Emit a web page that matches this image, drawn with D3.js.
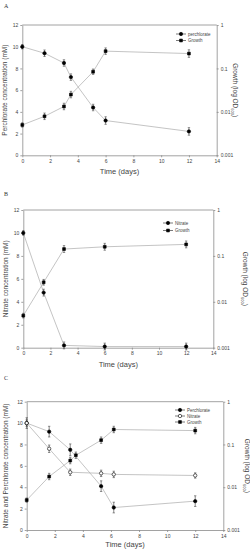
<!DOCTYPE html>
<html><head><meta charset="utf-8">
<script src="https://cdn.jsdelivr.net/npm/d3@7"></script>
<style>body{margin:0;background:#fff}svg{display:block;font-family:"Liberation Sans",Arial,sans-serif}</style>
</head><body><svg id="c" width="250" height="550"></svg>
<script>
// ---- data ----
const xTicks = [0,2,4,6,8,10,12,14];
const yTicks = [0,2,4,6,8,10,12];
const logTicks = [0.001,0.01,0.1,1];
const logTickLabels = ["0.001","0.01","0.1","1"];

// Panel A
const aPerchDays = [0,1.6,3,3.5,5.1,6,12];
const aPerch     = [10,9.4,8.5,7.2,4.4,3.2,2.2];
const aPerchErr  = [0.2,0.3,0.3,0.3,0.3,0.35,0.35];
const aGrowthDays= [0,1.6,3,3.5,5.1,6,12];
const aGrowth    = [0.005,0.0079,0.0133,0.025,0.084,0.25,0.22];
const aGrowthErr = [0.2,0.3,0.3,0.3,0.25,0.3,0.35]; // in mM-equivalent axis units

// Panel B
const bNitDays = [0,1.5,3,6,12];
const bNit     = [10,4.8,0.2,0.1,0.1];
const bNitErr  = [0.2,0.3,0.3,0.3,0.3];
const bGrowthDays = [0,1.5,3,6,12];
const bGrowth  = [0.005,0.0266,0.141,0.158,0.178];
const bGrowthErr = [0.2,0.25,0.3,0.3,0.3];

// Panel C
const cPerchDays = [0,1.6,3.1,5.3,6.2,12];
const cPerch     = [10,9.2,7.5,4.1,2.1,2.7];
const cPerchErr  = [0.5,0.5,0.55,0.5,0.5,0.5];
const cNitDays   = [0,1.6,3.1,5.3,6.2,12];
const cNit       = [10,7.6,5.4,5.3,5.2,5.1];
const cNitErr    = [0.3,0.35,0.3,0.3,0.3,0.25];
const cGrowthDays= [0,1.6,3.1,3.5,5.3,6.2,12];
const cGrowth    = [0.005,0.0178,0.042,0.056,0.126,0.224,0.211];
const cGrowthErr = [0.2,0.3,0.3,0.3,0.3,0.3,0.3];

// ---- drawing ----
const svg = d3.select("#c");
const axisCol = "#8a8a8a", lineCol = "#b5b5b5", textCol = "#444";

const panels = [
  {label:"A", lx:4, ly:8, x0:22.3, x1:216.7, y0:25, y1:155.3, leftTitle:"Perchlorate concentration (mM)", leftX:5, rightX:235, xTitleY:174,
   legend:{x:176, y:34, dy:6.5},
   series:[
    {name:"perchlorate", days:aPerchDays, vals:aPerch, err:aPerchErr, log:false, sym:"circle", fill:"#000"},
    {name:"Growth", days:aGrowthDays, vals:aGrowth, err:aGrowthErr, log:true, sym:"square", fill:"#000"}]},
  {label:"B", lx:4, ly:196, x0:23.3, x1:213.3, y0:210, y1:347.7, leftTitle:"Nitrate concentration (mM)", leftX:6, rightX:245, xTitleY:367,
   legend:{x:163, y:223, dy:7.5},
   series:[
    {name:"Nitrate", days:bNitDays, vals:bNit, err:bNitErr, log:false, sym:"circle", fill:"#000"},
    {name:"Growth", days:bGrowthDays, vals:bGrowth, err:bGrowthErr, log:true, sym:"square", fill:"#000"}]},
  {label:"C", lx:4, ly:380, x0:26.7, x1:223.3, y0:401.7, y1:530, leftTitle:"Nitrate and Perchlorate concentration (mM)", leftX:6, rightX:247, xTitleY:547,
   legend:{x:175, y:410, dy:6},
   series:[
    {name:"Perchlorate", days:cPerchDays, vals:cPerch, err:cPerchErr, log:false, sym:"circle", fill:"#000"},
    {name:"Nitrate", days:cNitDays, vals:cNit, err:cNitErr, log:false, sym:"circle", fill:"#fff"},
    {name:"Growth", days:cGrowthDays, vals:cGrowth, err:cGrowthErr, log:true, sym:"square", fill:"#000"}]}
];

panels.forEach(p => {
  const g = svg.append("g");
  const x = d3.scaleLinear().domain([0,14]).range([p.x0,p.x1]);
  const y = d3.scaleLinear().domain([0,12]).range([p.y1,p.y0]);
  const yl = d3.scaleLog().domain([0.001,1]).range([p.y1,p.y0]);

  g.append("text").attr("x",p.lx).attr("y",p.ly).attr("font-size",6).attr("font-family","Liberation Serif,serif").attr("fill","#333").text(p.label);

  // frame top
  g.append("line").attr("x1",p.x0).attr("x2",p.x1).attr("y1",p.y0).attr("y2",p.y0).attr("stroke",axisCol).attr("stroke-width",0.8);

  const styleAxis = sel => {
    sel.selectAll("path").attr("stroke",axisCol).attr("stroke-width",0.8);
    sel.selectAll("line").attr("stroke",axisCol).attr("stroke-width",0.8);
    sel.selectAll("text").attr("fill",textCol).attr("font-size",5);
  };
  g.append("g").attr("transform",`translate(0,${p.y1})`)
    .call(d3.axisBottom(x).tickValues(xTicks).tickSize(2).tickPadding(2).tickSizeOuter(0)).call(styleAxis);
  g.append("g").attr("transform",`translate(${p.x0},0)`)
    .call(d3.axisLeft(y).tickValues(yTicks).tickSize(2).tickPadding(2).tickSizeOuter(0)).call(styleAxis);
  g.append("g").attr("transform",`translate(${p.x1},0)`)
    .call(d3.axisRight(yl).tickValues(logTicks).tickFormat((d,i)=>logTickLabels[i]).tickSize(2).tickPadding(2).tickSizeOuter(0)).call(styleAxis);

  // titles
  g.append("text").attr("x",(p.x0+p.x1)/2).attr("y",p.xTitleY).attr("text-anchor","middle").attr("font-size",7.5).attr("fill",textCol).text("Time (days)");
  const ym = (p.y0+p.y1)/2;
  g.append("text").attr("transform",`translate(${p.leftX},${ym}) rotate(-90)`).attr("text-anchor","middle").attr("dy","0.35em").attr("font-size",6.5).attr("fill",textCol).text(p.leftTitle);
  const rt = g.append("text").attr("transform",`translate(${p.rightX},${ym}) rotate(90)`).attr("text-anchor","middle").attr("dy","0.35em").attr("font-size",6.5).attr("fill",textCol);
  rt.append("tspan").text("Growth (log OD");
  rt.append("tspan").attr("font-size",4).attr("dy","2").text("600");
  rt.append("tspan").attr("dy","-2").text(")");

  const symFor = s => s.sym==="square" ? d3.symbol().type(d3.symbolSquare).size(8) : d3.symbol().type(d3.symbolCircle).size(9);

  p.series.forEach(s => {
    const pts = s.days.map((d,i)=>{
      const py = s.log ? yl(s.vals[i]) : y(s.vals[i]);
      const ep = Math.abs(y(s.err[i]) - y(0));
      return {px:x(d), py, ep};
    });
    g.append("path").datum(pts).attr("fill","none").attr("stroke",lineCol).attr("stroke-width",0.8)
      .attr("d",d3.line().x(d=>d.px).y(d=>d.py));
    const eb = g.append("g");
    pts.forEach(d=>{
      eb.append("line").attr("x1",d.px).attr("x2",d.px).attr("y1",d.py-d.ep).attr("y2",d.py+d.ep).attr("stroke","#333").attr("stroke-width",0.6);
      [-1,1].forEach(k=>eb.append("line").attr("x1",d.px-1.2).attr("x2",d.px+1.2).attr("y1",d.py+k*d.ep).attr("y2",d.py+k*d.ep).attr("stroke","#333").attr("stroke-width",0.5));
    });
    g.append("g").selectAll("path").data(pts).join("path")
      .attr("transform",d=>`translate(${d.px},${d.py})`).attr("d",symFor(s)())
      .attr("fill",s.fill).attr("stroke","#000").attr("stroke-width",0.6);
  });

  // legend
  p.series.forEach((s,i)=>{
    const ly = p.legend.y + i*p.legend.dy;
    g.append("line").attr("x1",p.legend.x).attr("x2",p.legend.x+10).attr("y1",ly).attr("y2",ly).attr("stroke","#222").attr("stroke-width",0.6);
    g.append("path").attr("transform",`translate(${p.legend.x+5},${ly})`).attr("d",symFor(s)()).attr("fill",s.fill).attr("stroke","#000").attr("stroke-width",0.6);
    g.append("text").attr("x",p.legend.x+12).attr("y",ly).attr("dy","0.35em").attr("font-size",4.5).attr("fill",textCol).text(s.name);
  });
});
</script></body></html>
